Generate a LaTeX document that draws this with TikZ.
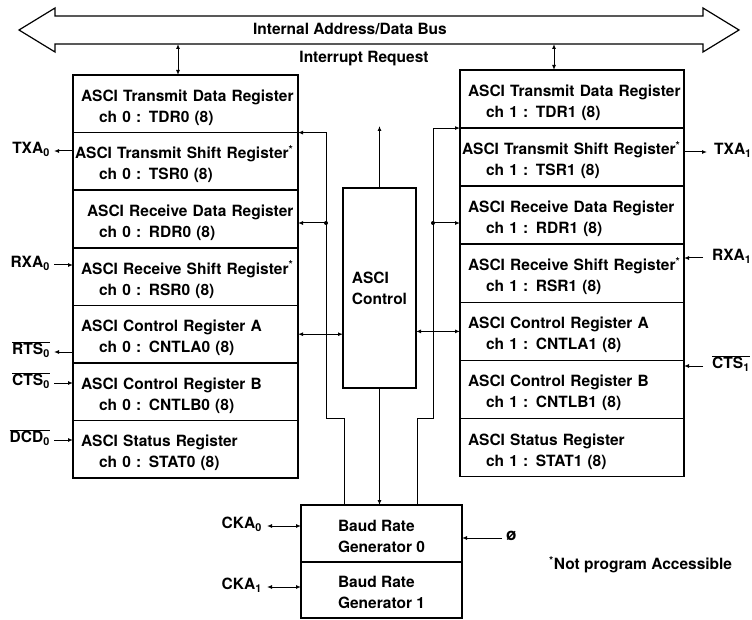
\documentclass[tikz,border=0pt]{standalone}
\usepackage{fontspec}
\setmainfont{TeX Gyre Heros}
\usetikzlibrary{positioning}
\usetikzlibrary{arrows.meta}

\newcommand{\regfont}{\fontsize{15.5}{21}\selectfont\bfseries}
\newcommand{\ovl}[1]{$\overline{\mbox{#1}}$}
\newcommand{\rtext}[3][6pt]{\rule{0pt}{19pt}\hspace*{#1}#2\\\hspace*{24pt}#3}

\begin{document}
\begin{tikzpicture}[x=1pt,y=-1pt,
  font=\regfont,
  node distance=0pt,
  reg/.style={draw, line width=1.6pt, outer sep=0pt, inner xsep=2pt, inner ysep=0pt,
    text width=221pt, minimum height=57.6pt, align=left},
  regR/.style={reg, text width=220pt, minimum height=58.1pt},
  gen/.style={draw, line width=1.6pt, outer sep=0pt, minimum width=161pt, align=left},
  sigl/.style={inner sep=1pt},
  wire/.style={line width=1pt},
  tip/.style={wire, -{Latex[length=5pt,width=4pt]}},
  tips/.style={wire, {Latex[length=5pt,width=4pt]}-{Latex[length=5pt,width=4pt]}}]
\useasboundingbox (0,0) rectangle (752,620);

% Internal bus
\draw[line width=1.2pt] (19,30) -- (55,8) -- (55,16) -- (703,16) -- (703,8) -- (739,30)
  -- (703,52) -- (703,44) -- (55,44) -- (55,52) -- cycle;
\node (buslbl) at (350,29) {Internal Address/Data Bus};
\node (irqlbl) at (364,59) {Interrupt Request};
\coordinate (busL) at (178,44);
\coordinate (busR) at (554,44);
\coordinate (irq) at (379.5,126);

% Channel 0 registers
\node[reg] (tdr0) at (185.5,103.8) {\rtext{ASCI Transmit Data Register}{ch 0 : TDR0 (8)}};
\node[reg, below=of tdr0] (tsr0) {\rtext[0pt]{ASCI Transmit Shift Register\textsuperscript{*}}{ch 0 : TSR0 (8)}};
\node[reg, below=of tsr0] (rdr0) {\rtext[12pt]{ASCI Receive Data Register}{ch 0 : RDR0 (8)}};
\node[reg, below=of rdr0] (rsr0) {\rtext{ASCI Receive Shift Register\textsuperscript{*}}{ch 0 : RSR0 (8)}};
\node[reg, below=of rsr0] (cntla0) {\rtext{ASCI Control Register A}{ch 0 : CNTLA0 (8)}};
\node[reg, below=of cntla0] (cntlb0) {\rtext{ASCI Control Register B}{ch 0 : CNTLB0 (8)}};
\node[reg, below=of cntlb0] (stat0) {\rtext{ASCI Status Register}{ch 0 : STAT0 (8)}};

% Channel 1 registers
\node[regR] (tdr1) at (572,99) {\rtext{ASCI Transmit Data Register}{ch 1 : TDR1 (8)}};
\node[regR, below=of tdr1] (tsr1) {\rtext[0pt]{ASCI Transmit Shift Register\textsuperscript{*}}{ch 1 : TSR1 (8)}};
\node[regR, below=of tsr1] (rdr1) {\rtext{ASCI Receive Data Register}{ch 1 : RDR1 (8)}};
\node[regR, below=of rdr1] (rsr1) {\rtext{ASCI Receive Shift Register\textsuperscript{*}}{ch 1 : RSR1 (8)}};
\node[regR, below=of rsr1] (cntla1) {\rtext{ASCI Control Register A}{ch 1 : CNTLA1 (8)}};
\node[regR, below=of cntla1] (cntlb1) {\rtext{ASCI Control Register B}{ch 1 : CNTLB1 (8)}};
\node[regR, below=of cntlb1] (stat1) {\rtext{ASCI Status Register}{ch 1 : STAT1 (8)}};

% Control and baud rate generators
\node[draw, line width=1.6pt, outer sep=0pt, minimum width=73pt, minimum height=200pt,
  align=left] (ctrl) at (379.5,288) {ASCI\\Control};
\node[gen, minimum height=57pt] (baud0) at (381.5,533.5) {\rule{0pt}{17pt}Baud Rate\\Generator 0};
\node[gen, minimum height=56pt, below=of baud0] (baud1) {\rule{0pt}{17pt}Baud Rate\\Generator 1};

% Bus links
\draw[tips] (busL) -- (tdr0.north -| busL);
\draw[tips] (busR) -- (tdr1.north -| busR);
\draw[tip] (ctrl.north) -- (irq);
\draw[tip] (ctrl.south) -- (ctrl.south |- baud0.north);
\draw[tips] (cntla0.east) -- (cntla0.east -| ctrl.west);
\draw[tips] (ctrl.east |- cntla1.west) -- (cntla1.west);

% Clock lines to the registers
\coordinate (lA) at (326,418);
\coordinate (lB) at (344,418);
\coordinate (lbr) at (326,223);
\draw[tip] (baud0.north -| lB) -- (lB) -- (lA) |- (tsr0.north east);
\fill (lbr) circle[radius=2pt];
\draw[tip] (lbr) -- (lbr -| rdr0.east);

\coordinate (rA) at (433,418);
\coordinate (rB) at (417,418);
\coordinate (rbr) at (433,223);
\draw[tip] (baud0.north -| rB) -- (rB) -- (rA) |- (tsr1.north west);
\fill (rbr) circle[radius=2pt];
\draw[tip] (rbr) -- (rbr -| rdr1.west);

% Channel 0 pins
\node[sigl, anchor=mid east] (txa0) at (51,151) {TXA\textsubscript{0}};
\node[sigl, anchor=mid east] (rxa0) at (51,265) {RXA\textsubscript{0}};
\node[sigl, anchor=mid east] (rts0) at (51,352) {\ovl{RTS\textsubscript{0}}};
\node[sigl, anchor=mid east] (cts0) at (51,383) {\ovl{CTS\textsubscript{0}}};
\node[sigl, anchor=mid east] (dcd0) at (51,440) {\ovl{DCD\textsubscript{0}}};
\draw[tip, shorten >=3pt] (tsr0.west |- txa0.mid east) -- (txa0.mid east);
\draw[tip, shorten <=3pt] (rxa0.mid east) -- (rsr0.west |- rxa0.mid east);
\draw[tip, shorten >=3pt] (cntla0.west |- rts0.mid east) -- (rts0.mid east);
\draw[tip, shorten <=3pt] (cts0.mid east) -- (cntlb0.west |- cts0.mid east);
\draw[tip, shorten <=3pt] (dcd0.mid east) -- (stat0.west |- dcd0.mid east);

% Channel 1 pins
\node[sigl, anchor=mid west] (txa1) at (713,152) {TXA\textsubscript{1}};
\node[sigl, anchor=mid west] (rxa1) at (711,258) {RXA\textsubscript{1}};
\node[sigl, anchor=mid west] (cts1) at (711,366) {\ovl{CTS\textsubscript{1}}};
\draw[tip, shorten >=6pt] (tsr1.east |- txa1.mid west) -- (txa1.mid west);
\draw[tip, shorten <=8pt] (rxa1.mid west) -- (rsr1.east |- rxa1.mid west);
\draw[tip, shorten <=8pt] (cts1.mid west) -- (cntlb1.east |- cts1.mid west);

% Clock pins
\node[sigl, anchor=mid east] (cka0) at (263,526) {CKA\textsubscript{0}};
\node[sigl, anchor=mid east] (cka1) at (263,587) {CKA\textsubscript{1}};
\node[sigl, anchor=mid west, font=\fontsize{17}{21}\selectfont\bfseries] (phi) at (505,538) {ø};
\draw[tips, shorten <=4pt] (cka0.mid east) -- (baud0.west |- cka0.mid east);
\draw[tips, shorten <=4pt] (cka1.mid east) -- (baud1.west |- cka1.mid east);
\draw[tip, shorten <=3pt] (phi.mid west) -- (baud0.east |- phi.mid west);

\node[sigl, anchor=west] (note) at (548,565) {\textsuperscript{*}Not program Accessible};
\end{tikzpicture}
\end{document}
